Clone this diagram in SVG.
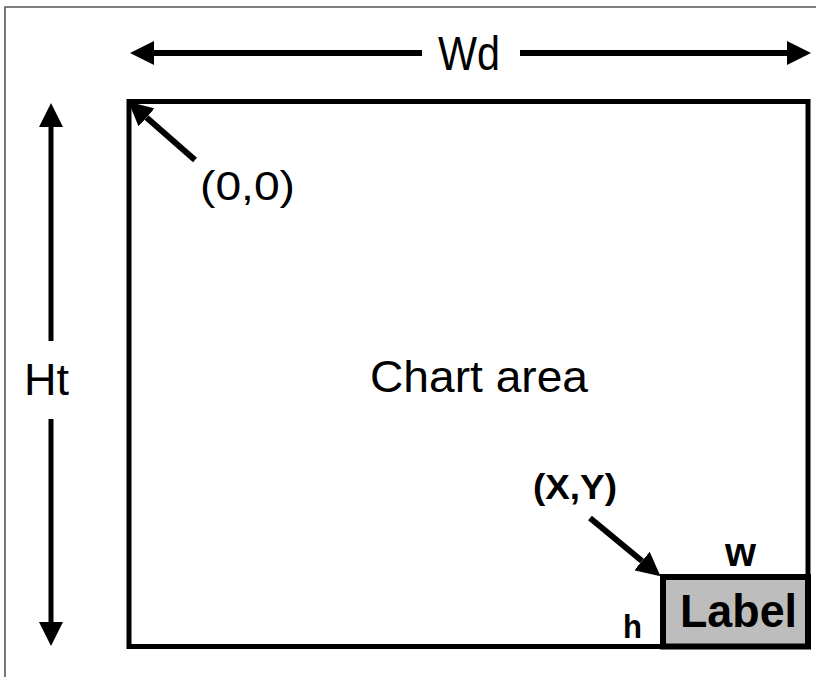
<svg xmlns="http://www.w3.org/2000/svg" width="816" height="677" viewBox="0 0 816 677">
  <style>
    .sans { font-family: "Liberation Sans", Arial, sans-serif; fill: #000; }
    .bold { font-weight: bold; }
    .conn { stroke: #000; fill: none; }
  </style>
  <defs>
    <marker id="head" markerUnits="userSpaceOnUse" markerWidth="24" markerHeight="24" viewBox="0 0 22 22" refX="0" refY="11" orient="auto">
      <path d="M0,0 L22,11 L0,22 Z" fill="#000"/>
    </marker>
  </defs>
  <rect width="816" height="677" fill="#fff"/>
  <!-- page frame -->
  <path d="M5,677 V7 H816" stroke="#555" stroke-width="1.6" fill="none"/>

  <g id="chart-area">
    <rect x="129" y="101.5" width="679" height="545" fill="none" stroke="#000" stroke-width="5"/>
    <text class="sans" x="370" y="392" font-size="45" textLength="218" lengthAdjust="spacingAndGlyphs">Chart area</text>
  </g>

  <g id="label-box">
    <rect x="663" y="577" width="145" height="69.5" fill="#bdbdbd" stroke="#000" stroke-width="6"/>
    <text class="sans bold" x="680" y="627" font-size="46" textLength="117" lengthAdjust="spacingAndGlyphs">Label</text>
  </g>

  <g id="width-label">
    <text class="sans" x="438" y="70" font-size="48" textLength="62" lengthAdjust="spacingAndGlyphs">Wd</text>
  </g>
  <g id="height-label">
    <text class="sans" x="24" y="395" font-size="45" textLength="45" lengthAdjust="spacingAndGlyphs">Ht</text>
  </g>
  <g id="origin-label">
    <text class="sans" x="200" y="200" font-size="41" textLength="95" lengthAdjust="spacingAndGlyphs">(0,0)</text>
  </g>
  <g id="xy-label">
    <text class="sans bold" x="533" y="499" font-size="35" textLength="84" lengthAdjust="spacingAndGlyphs">(X,Y)</text>
  </g>
  <g id="w-label">
    <text class="sans bold" x="725" y="566" font-size="40" textLength="31" lengthAdjust="spacingAndGlyphs">w</text>
  </g>
  <g id="h-label">
    <text class="sans bold" x="623" y="638" font-size="33" textLength="19" lengthAdjust="spacingAndGlyphs">h</text>
  </g>

  <g id="connectors">
    <!-- width dimension -->
    <line class="conn" x1="422" y1="53" x2="154" y2="53" stroke-width="6" marker-end="url(#head)"/>
    <line class="conn" x1="520" y1="53" x2="787" y2="53" stroke-width="6" marker-end="url(#head)"/>
    <!-- height dimension -->
    <line class="conn" x1="51" y1="341" x2="51" y2="127" stroke-width="5" marker-end="url(#head)"/>
    <line class="conn" x1="51" y1="419" x2="51" y2="622" stroke-width="5" marker-end="url(#head)"/>
    <!-- origin pointer -->
    <line class="conn" x1="195" y1="160" x2="146.5" y2="117.5" stroke-width="6" marker-end="url(#head)"/>
    <!-- label position pointer -->
    <line class="conn" x1="590" y1="518" x2="642" y2="561" stroke-width="6" marker-end="url(#head)"/>
  </g>
</svg>
